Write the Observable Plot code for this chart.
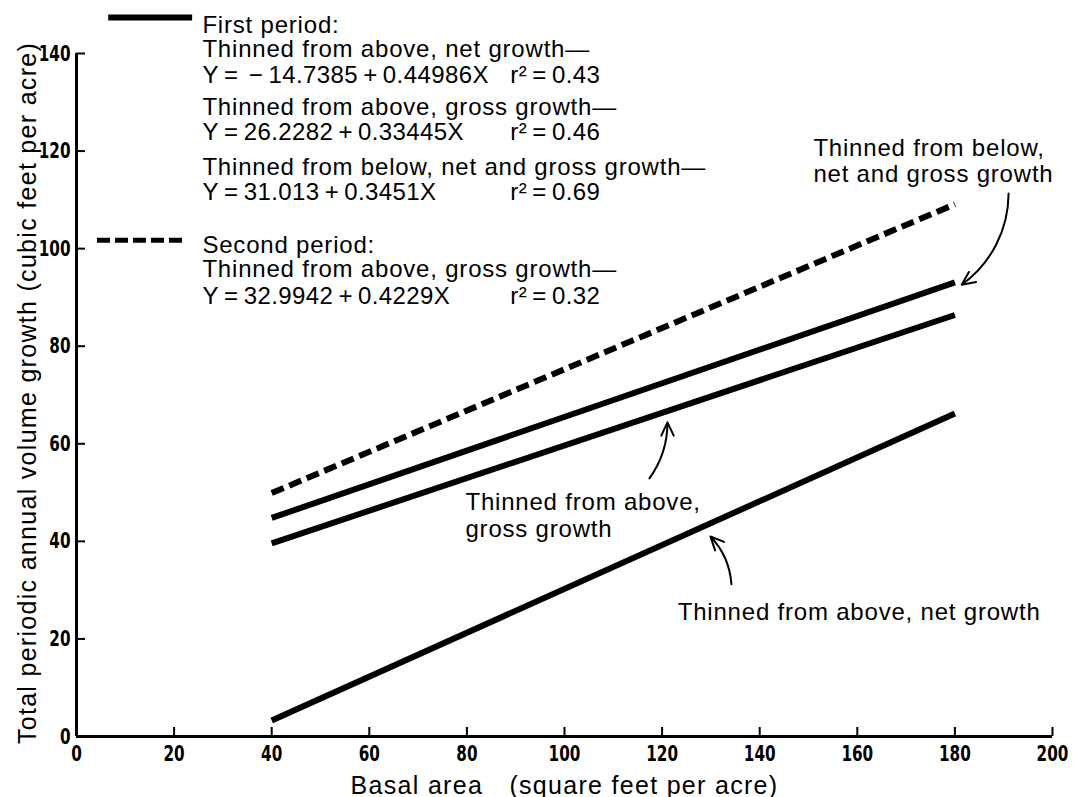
<!DOCTYPE html>
<html><head><meta charset="utf-8">
<script src="https://cdn.jsdelivr.net/npm/d3@7"></script>
<script src="https://cdn.jsdelivr.net/npm/@observablehq/plot@0.6"></script>
<style>
body{margin:0;background:#fff;}
#chart svg{display:block;}
#chart svg text{letter-spacing:0.8px;}
#chart svg g[aria-label="x-axis tick label"] text,
#chart svg g[aria-label="y-axis tick label"] text{letter-spacing:0;}
</style></head><body><div id="chart"></div>
<script>
// ---- data ----
const basalArea = [40, 180];                 // x extent of each fitted line
const netAbove1 = [3.3, 66.2];               // first period, thinned from above, net growth
const grossAbove1 = [39.6, 86.4];            // first period, thinned from above, gross growth
const below1 = [44.8, 93.1];                 // first period, thinned from below, net and gross
const grossAbove2 = [49.9, 109.1];           // second period, thinned from above, gross growth
const xTicks = [0, 20, 40, 60, 80, 100, 120, 140, 160, 180, 200];
const yTicks = [0, 20, 40, 60, 80, 100, 120, 140];
const xTitle = "Basal area\u2003(square feet per acre)";
const yTitle = "Total periodic annual volume growth (cubic feet per acre)";

const headingText = [
  "First period:",
  "Thinned from above, net growth\u2014",
  "Thinned from above, gross growth\u2014",
  "Thinned from below, net and gross growth\u2014",
  "Second period:",
  "Thinned from above, gross growth\u2014"
];
const T = "\u2009";
const equationText = [
  `Y${T}=${T}${T}\u2212${T}14.7385${T}+${T}0.44986X`,
  `Y${T}=${T}26.2282${T}+${T}0.33445X`,
  `Y${T}=${T}31.013${T}+${T}0.3451X`,
  `Y${T}=${T}32.9942${T}+${T}0.4229X`
];
const r2Text = [`r\u00b2${T}=${T}0.43`, `r\u00b2${T}=${T}0.46`, `r\u00b2${T}=${T}0.69`, `r\u00b2${T}=${T}0.32`];

// ---- build series table ----
const series = [
  {name: "net1", values: netAbove1, dashed: false},
  {name: "gross1", values: grossAbove1, dashed: false},
  {name: "below1", values: below1, dashed: false},
  {name: "gross2", values: grossAbove2, dashed: true}
];
const rows = series.flatMap(s => basalArea.map((x, i) => ({series: s.name, x, y: s.values[i], dashed: s.dashed})));
const solidRows = rows.filter(d => !d.dashed);
const dashedRows = rows.filter(d => d.dashed);

// ---- annotation layout (data units) ----
const headingY = [144.3, 139.2, 127.3, 115.0, 99.2, 94.1];
const headingRows = headingText.map((t, i) => ({text: t, y: headingY[i]}));
const eqY = [134.0, 122.2, 109.9, 88.7];
const eqRows = equationText.map((t, i) => ({text: t, y: eqY[i]}));
const r2Rows = r2Text.map((t, i) => ({text: t, y: eqY[i]}));

const notes = [
  {text: "Thinned from below,\nnet and gross growth", x: 151.0, y: 119.5},
  {text: "Thinned from above,\ngross growth", x: 79.7, y: 46.9},
  {text: "Thinned from above, net growth", x: 123.2, y: 24.4}
];
const arrowA = {x1: 191.0, y1: 111.3, x2: 181.4, y2: 92.6};
const arrowB = {x1: 117.4, y1: 52.9, x2: 121.1, y2: 64.4};
const arrowC = {x1: 134.2, y1: 31.2, x2: 129.9, y2: 41.0};

const textFont = "'Liberation Sans', Arial, Helvetica, sans-serif";
const tickFont = "'Liberation Sans Narrow', 'DejaVu Sans Condensed', 'DejaVu Sans', sans-serif";
const arrowOpts = {x1: "x1", y1: "y1", x2: "x2", y2: "y2", strokeWidth: 2, headLength: 11, headAngle: 50};

const chart = Plot.plot({
  width: 1084,
  height: 797,
  marginLeft: 76,
  marginRight: 32,
  marginTop: 53,
  marginBottom: 61,
  x: {domain: [0, 200]},
  y: {domain: [0, 140]},
  style: {fontFamily: textFont, color: "#000", background: "#fff"},
  marks: [
    Plot.axisX({ticks: xTicks, tickSize: -9, tickPadding: 18, strokeWidth: 2, label: null,
      tickFormat: d => String(d), fontFamily: tickFont, fontWeight: "bold", fontSize: 22}),
    Plot.axisY({ticks: yTicks, tickSize: -9, tickPadding: 15, strokeWidth: 2, label: null,
      tickFormat: d => String(d), fontFamily: tickFont, fontWeight: "bold", fontSize: 22}),
    Plot.ruleX([0], {y1: 0, y2: 140, strokeWidth: 3}),
    Plot.ruleY([0], {x1: 0, x2: 200, strokeWidth: 3}),
    Plot.line(solidRows, {x: "x", y: "y", z: "series", stroke: "#000", strokeWidth: 6, strokeLinecap: "butt"}),
    Plot.line(dashedRows, {x: "x", y: "y", z: "series", stroke: "#000", strokeWidth: 6, strokeDasharray: "13,6", strokeLinecap: "butt"}),
    // legend keys
    Plot.ruleY([147.4], {x1: 6.6, x2: 23.8, strokeWidth: 6}),
    Plot.ruleY([101.7], {x1: 4.3, x2: 22.7, strokeWidth: 5, strokeDasharray: "13,5"}),
    Plot.text(headingRows, {x: 25.8, y: "y", text: "text", textAnchor: "start", lineAnchor: "bottom", fontSize: 24}),
    Plot.text(eqRows, {x: 25.8, y: "y", text: "text", textAnchor: "start", lineAnchor: "bottom", fontSize: 24}),
    Plot.text(r2Rows, {x: 88.9, y: "y", text: "text", textAnchor: "start", lineAnchor: "bottom", fontSize: 24}),
    Plot.text(notes, {x: "x", y: "y", text: "text", textAnchor: "start", lineAnchor: "top", fontSize: 24, lineHeight: 1.12, dy: -17}),
    Plot.arrow([arrowA], {...arrowOpts, bend: 27}),
    Plot.arrow([arrowB], {...arrowOpts, bend: -18}),
    Plot.arrow([arrowC], {...arrowOpts, bend: -20}),
    Plot.text([yTitle], {frameAnchor: "left", textAnchor: "middle", rotate: -90, dx: -49, dy: -2, fontSize: 25}),
    Plot.text([xTitle], {frameAnchor: "bottom", textAnchor: "middle", dy: 57, lineAnchor: "bottom", fontSize: 25})
  ]
});
chart.querySelectorAll('g[aria-label="x-axis tick label"] text, g[aria-label="y-axis tick label"] text').forEach(t => {
  t.setAttribute("textLength", t.textContent.length * 10.6);
  t.setAttribute("lengthAdjust", "spacingAndGlyphs");
});
const eqSet = new Set([...equationText, ...r2Text]);
const titleSet = new Set([xTitle, yTitle]);
chart.querySelectorAll("text").forEach(t => {
  if (eqSet.has(t.textContent)) t.style.letterSpacing = "0.4px";
  if (titleSet.has(t.textContent)) t.style.letterSpacing = "1.3px";
});
document.getElementById("chart").append(chart);
</script>
</body></html>
